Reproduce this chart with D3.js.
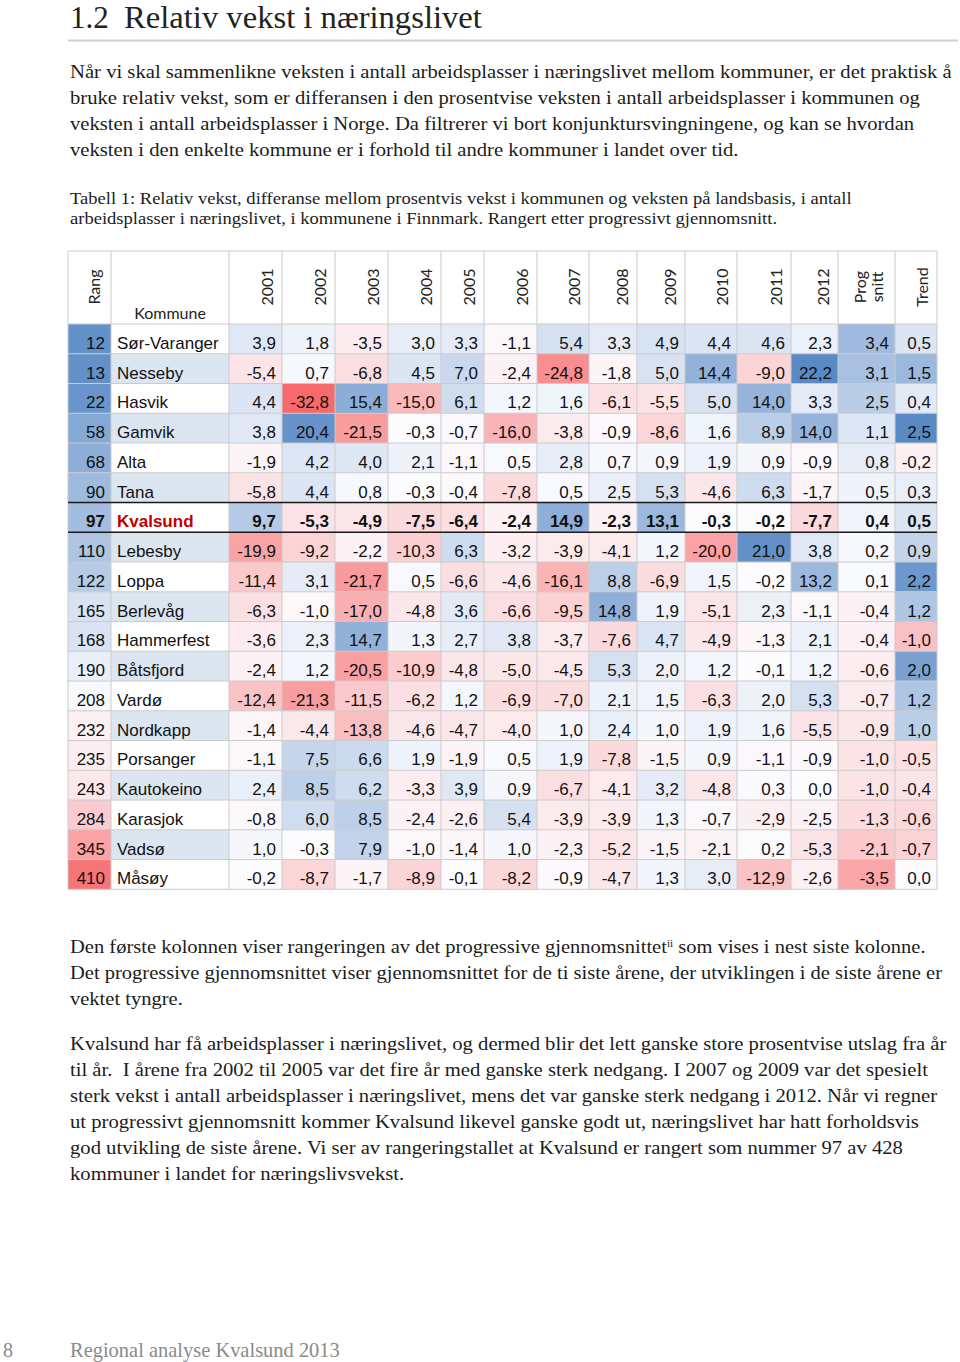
<!DOCTYPE html>
<html><head><meta charset="utf-8">
<script src="https://cdn.jsdelivr.net/npm/d3@7"></script>
<style>body{margin:0;background:#fff;}svg{display:block;}</style>
</head><body>
<svg id="page" width="960" height="1362"></svg>
<script>
// ---------------- DATA ----------------
const kommuner = ["Sør-Varanger","Nesseby","Hasvik","Gamvik","Alta","Tana","Kvalsund","Lebesby","Loppa","Berlevåg","Hammerfest","Båtsfjord","Vardø","Nordkapp","Porsanger","Kautokeino","Karasjok","Vadsø","Måsøy"];
const rang = [12,13,22,58,68,90,97,110,122,165,168,190,208,232,235,243,284,345,410];
const yearLabels = ["2001","2002","2003","2004","2005","2006","2007","2008","2009","2010","2011","2012"];
const y2001 = [3.9,-5.4,4.4,3.8,-1.9,-5.8,9.7,-19.9,-11.4,-6.3,-3.6,-2.4,-12.4,-1.4,-1.1,2.4,-0.8,1.0,-0.2];
const y2002 = [1.8,0.7,-32.8,20.4,4.2,4.4,-5.3,-9.2,3.1,-1.0,2.3,1.2,-21.3,-4.4,7.5,8.5,6.0,-0.3,-8.7];
const y2003 = [-3.5,-6.8,15.4,-21.5,4.0,0.8,-4.9,-2.2,-21.7,-17.0,14.7,-20.5,-11.5,-13.8,6.6,6.2,8.5,7.9,-1.7];
const y2004 = [3.0,4.5,-15.0,-0.3,2.1,-0.3,-7.5,-10.3,0.5,-4.8,1.3,-10.9,-6.2,-4.6,1.9,-3.3,-2.4,-1.0,-8.9];
const y2005 = [3.3,7.0,6.1,-0.7,-1.1,-0.4,-6.4,6.3,-6.6,3.6,2.7,-4.8,1.2,-4.7,-1.9,3.9,-2.6,-1.4,-0.1];
const y2006 = [-1.1,-2.4,1.2,-16.0,0.5,-7.8,-2.4,-3.2,-4.6,-6.6,3.8,-5.0,-6.9,-4.0,0.5,0.9,5.4,1.0,-8.2];
const y2007 = [5.4,-24.8,1.6,-3.8,2.8,0.5,14.9,-3.9,-16.1,-9.5,-3.7,-4.5,-7.0,1.0,1.9,-6.7,-3.9,-2.3,-0.9];
const y2008 = [3.3,-1.8,-6.1,-0.9,0.7,2.5,-2.3,-4.1,8.8,14.8,-7.6,5.3,2.1,2.4,-7.8,-4.1,-3.9,-5.2,-4.7];
const y2009 = [4.9,5.0,-5.5,-8.6,0.9,5.3,13.1,1.2,-6.9,1.9,4.7,2.0,1.5,1.0,-1.5,3.2,1.3,-1.5,1.3];
const y2010 = [4.4,14.4,5.0,1.6,1.9,-4.6,-0.3,-20.0,1.5,-5.1,-4.9,1.2,-6.3,1.9,0.9,-4.8,-0.7,-2.1,3.0];
const y2011 = [4.6,-9.0,14.0,8.9,0.9,6.3,-0.2,21.0,-0.2,2.3,-1.3,-0.1,2.0,1.6,-1.1,0.3,-2.9,0.2,-12.9];
const y2012 = [2.3,22.2,3.3,14.0,-0.9,-1.7,-7.7,3.8,13.2,-1.1,2.1,1.2,5.3,-5.5,-0.9,0.0,-2.5,-5.3,-2.6];
const progSnitt = [3.4,3.1,2.5,1.1,0.8,0.5,0.4,0.2,0.1,-0.4,-0.4,-0.6,-0.7,-0.9,-1.0,-1.0,-1.3,-2.1,-3.5];
const trend = [0.5,1.5,0.4,2.5,-0.2,0.3,0.5,0.9,2.2,1.2,-1.0,2.0,1.2,1.0,-0.5,-0.4,-0.6,-0.7,0.0];
const highlight = "Kvalsund";
const antallKommuner = 428;

const titleNumber = "1.2";
const titleText = "Relativ vekst i næringslivet";
const introLines = [
 "Når vi skal sammenlikne veksten i antall arbeidsplasser i næringslivet mellom kommuner, er det praktisk å",
 "bruke relativ vekst, som er differansen i den prosentvise veksten i antall arbeidsplasser i kommunen og",
 "veksten i antall arbeidsplasser i Norge. Da filtrerer vi bort konjunktursvingningene, og kan se hvordan",
 "veksten i den enkelte kommune er i forhold til andre kommuner i landet over tid."];
const captionLines = [
 "Tabell 1: Relativ vekst, differanse mellom prosentvis vekst i kommunen og veksten på landsbasis, i antall",
 "arbeidsplasser i næringslivet, i kommunene i Finnmark. Rangert etter progressivt gjennomsnitt."];
const noteLines = [
 "Den første kolonnen viser rangeringen av det progressive gjennomsnittet{ii} som vises i nest siste kolonne.",
 "Det progressive gjennomsnittet viser gjennomsnittet for de ti siste årene, der utviklingen i de siste årene er",
 "vektet tyngre."];
const bodyLines = [
 "Kvalsund har få arbeidsplasser i næringslivet, og dermed blir det lett ganske store prosentvise utslag fra år",
 "til år.  I årene fra 2002 til 2005 var det fire år med ganske sterk nedgang. I 2007 og 2009 var det spesielt",
 "sterk vekst i antall arbeidsplasser i næringslivet, mens det var ganske sterk nedgang i 2012. Når vi regner",
 "ut progressivt gjennomsnitt kommer Kvalsund likevel ganske godt ut, næringslivet har hatt forholdsvis",
 "god utvikling de siste årene. Vi ser av rangeringstallet at Kvalsund er rangert som nummer 97 av 428",
 "kommuner i landet for næringslivsvekst."];
const footerPage = "8";
const footerText = "Regional analyse Kvalsund 2013";

// ---------------- RENDER ----------------
const svg = d3.select("#page");
const serif = "'Liberation Serif','DejaVu Serif',serif";
const sans = "'Liberation Sans',Arial,sans-serif";
const headFont = "Lato,'Open Sans',sans-serif";
svg.append("rect").attr("width",960).attr("height",1362).attr("fill","#fff");

function writeLine(textSel, line){
  const parts = line.split(/(\{[^}]*\})/).filter(s=>s.length);
  parts.forEach(p=>{
    if(p[0]==="{"){
      textSel.append("tspan").attr("font-size","0.55em").attr("baseline-shift","super").text(p.slice(1,-1));
    } else textSel.append("tspan").text(p);
  });
}
function block(x, y0, step, lines, size, targetW, color){
  const g = svg.append("g");
  const inner = g.append("g");
  lines.forEach((l,i)=>{
    const t = inner.append("text").attr("x",0).attr("y",y0+i*step)
      .attr("font-family",serif).attr("font-size",size).attr("fill",color||"#1c1c1c")
      .style("white-space","pre");
    writeLine(t,l);
  });
  const w = inner.select("text").node().getComputedTextLength();
  const k = targetW ? targetW/w : 1;
  g.attr("transform",`translate(${x},0) scale(${k},1)`);
  return k;
}

// title
block(70, 28, 0, [titleNumber], 31, null, "#222");
block(124, 28, 0, [titleText], 31, 358, "#222");
svg.append("line").attr("x1",68).attr("x2",958).attr("y1",40.5).attr("y2",40.5)
  .attr("stroke","#cfcfcf").attr("stroke-width",2);

block(70, 78, 26, introLines, 19, 882);
block(70, 204, 20, captionLines, 16.5, 782);
block(70, 953, 26, noteLines, 19, 856);
block(70, 1050, 26, bodyLines, 19, 877);
block(3, 1357, 0, [footerPage], 20, null, "#8a8a8a");
block(70, 1357, 0, [footerText], 20, 270, "#8a8a8a");

// ---------- table ----------
const yearSeries = [y2001,y2002,y2003,y2004,y2005,y2006,y2007,y2008,y2009,y2010,y2011,y2012];
const columns = [{key:"rang",label:["Rang"],w:43},{key:"kommune",label:["Kommune"],w:118}]
  .concat(yearLabels.map((yl,i)=>({key:yl,label:[yl],w:[53,53,53,53,43,53,52,48,48,52,54,47][i]})))
  .concat([{key:"prog",label:["Prog","snitt"],w:57},{key:"trend",label:["Trend"],w:42}]);
const tableLeft = 68, headTop = 251, bodyTop = 324, bodyBottom = 889.3;
const lefts = columns.map((c,i)=>tableLeft + d3.sum(columns.slice(0,i),d=>d.w));
const x = d3.scaleOrdinal().domain(columns.map(c=>c.key)).range(lefts);
const wid = d3.scaleOrdinal().domain(columns.map(c=>c.key)).range(columns.map(c=>c.w));
const y = d3.scaleBand().domain(kommuner).range([bodyTop, bodyBottom]);
const tableRight = tableLeft + d3.sum(columns,c=>c.w);

const RED="#f8696b", WHITE="#fcfcff", BLUE="#5a8ac6";
const allYears = yearSeries.flat();
const cYear = d3.scaleLinear().domain([d3.min(allYears),0,d3.max(allYears)]).range([RED,WHITE,BLUE]).clamp(true);
const cRank = d3.scaleLinear().domain([1,antallKommuner/2,antallKommuner]).range([BLUE,WHITE,RED]).clamp(true);
const cProg = d3.scaleLinear().domain([-6,0,6]).range([RED,WHITE,BLUE]).clamp(true);
const cTrend = d3.scaleLinear().domain([-2.5,0,2.5]).range([RED,WHITE,BLUE]).clamp(true);

const locale = d3.formatLocale({decimal:",",thousands:" ",grouping:[3],currency:["","kr"],minus:"-"});
const fmt = locale.format(".1f");

const cells = [];
kommuner.forEach((k,r)=>{
  const hl = k===highlight;
  cells.push({row:k,col:"rang",text:String(rang[r]),fill:cRank(rang[r]),align:"end",hl});
  cells.push({row:k,col:"kommune",text:k,fill:(r%2===1)?"#dce6f1":"#ffffff",align:"start",hl,name:true});
  yearSeries.forEach((s,i)=>cells.push({row:k,col:yearLabels[i],text:fmt(s[r]),fill:cYear(s[r]),align:"end",hl}));
  cells.push({row:k,col:"prog",text:fmt(progSnitt[r]),fill:cProg(progSnitt[r]),align:"end",hl});
  cells.push({row:k,col:"trend",text:fmt(trend[r]),fill:cTrend(trend[r]),align:"end",hl});
});

const tg = svg.append("g");
tg.append("rect").attr("x",tableLeft).attr("y",headTop).attr("width",tableRight-tableLeft).attr("height",bodyTop-headTop).attr("fill","#fff");
tg.selectAll("rect.cell").data(cells).join("rect").attr("class","cell")
  .attr("x",d=>x(d.col)).attr("y",d=>y(d.row)).attr("width",d=>wid(d.col)).attr("height",y.bandwidth())
  .attr("fill",d=>d.fill);

// grid
const grid = tg.append("g").attr("stroke","#cbcbcb").attr("stroke-width",1);
lefts.concat([tableRight]).forEach(v=>grid.append("line").attr("x1",v).attr("x2",v).attr("y1",headTop).attr("y2",bodyBottom));
[headTop].concat(kommuner.map(k=>y(k))).concat([bodyBottom]).forEach(v=>
  grid.append("line").attr("x1",tableLeft).attr("x2",tableRight).attr("y1",v).attr("y2",v));

// highlight borders
[y(highlight), y(highlight)+y.bandwidth()].forEach(v=>
  tg.append("line").attr("x1",tableLeft).attr("x2",tableRight).attr("y1",v).attr("y2",v)
    .attr("stroke","#1a1a1a").attr("stroke-width",1.5));

// cell text
tg.selectAll("text.cell").data(cells).join("text").attr("class","cell")
  .attr("x",d=>d.align==="end"? x(d.col)+wid(d.col)-6 : x(d.col)+6)
  .attr("y",d=>y(d.row)+y.bandwidth()-5)
  .attr("text-anchor",d=>d.align)
  .attr("font-family",sans).attr("font-size",17)
  .attr("font-weight",d=>d.hl?"bold":"normal")
  .attr("fill",d=>d.hl&&d.name?"#c00000":"#111")
  .text(d=>d.text);

// header labels
const headMid = 287;
columns.forEach(c=>{
  if(c.key==="kommune"){
    tg.append("text").attr("x",x(c.key)+c.w/2).attr("y",bodyTop-5).attr("text-anchor","middle")
      .attr("font-family",headFont).attr("font-size",16).attr("fill","#222").text(c.label[0]);
    return;
  }
  const n = c.label.length;
  c.label.forEach((lab,j)=>{
    const cx = c.key==="rang" ? x(c.key)+c.w/2+4 :
               n===2 ? x(c.key)+c.w-36+j*17 : x(c.key)+c.w-16;
    tg.append("text").attr("transform",`translate(${cx},${headMid}) rotate(-90)`)
      .attr("text-anchor","middle").attr("dominant-baseline","central")
      .attr("font-family",headFont).attr("font-size",16).attr("fill","#222").text(lab);
  });
});
</script>
</body></html>
